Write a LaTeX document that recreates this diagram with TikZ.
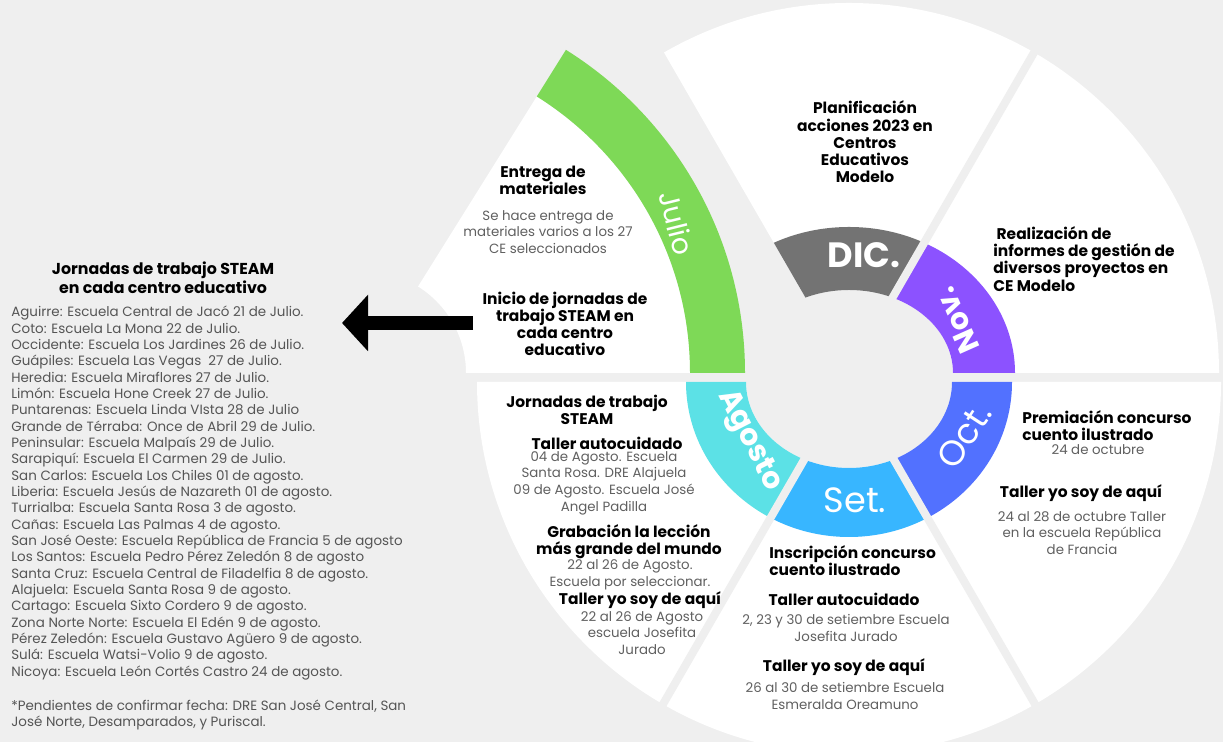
\documentclass[tikz,border=0pt]{standalone}
\usepackage{fontspec}
\setmainfont{Poppins}
\usetikzlibrary{arrows.meta}
\definecolor{bggray}{HTML}{EFEFEF}
\definecolor{julio}{HTML}{7ED957}
\definecolor{dic}{HTML}{737373}
\definecolor{nov}{HTML}{8C52FF}
\definecolor{oct}{HTML}{5271FF}
\definecolor{set}{HTML}{38B6FF}
\definecolor{ago}{HTML}{5CE1E6}
\definecolor{infogray}{HTML}{606060}
\definecolor{listgray}{HTML}{555555}
\begin{document}
\begin{tikzpicture}
	[x=0.02cm, y=0.02cm,
	head/.style = {font=\bfseries\fontsize{8.8}{9.8}\selectfont, align=center, inner sep=0pt},
	info/.style = {font=\fontsize{7.6}{9.5}\selectfont, align=center, text=infogray, inner sep=0pt},
	month/.style = {text=white, inner sep=0pt},
	gap/.style = {bggray, line width=0.16cm}]
\fill[bggray] (0,0) rectangle (1223,742);
\useasboundingbox (0,0) rectangle (1223,742);
\coordinate (U) at (849,369);
\coordinate (L) at (849,360);
\coordinate (J) at (364,369);
% upper half of the wheel
\begin{scope}
\clip (U) -- +(0:500) -- +(60:500) -- cycle;
\fill[white, even odd rule] (U) circle[radius=370] (U) ellipse[x radius=104, y radius=83];
\fill[nov, even odd rule] (U) ellipse[x radius=166, y radius=146] (U) ellipse[x radius=104, y radius=83];
\end{scope}
\begin{scope}
\clip (U) -- +(60:500) -- +(120:500) -- cycle;
\fill[white, even odd rule] (U) circle[radius=370] (U) ellipse[x radius=104, y radius=83];
\fill[dic, even odd rule] (U) ellipse[x radius=166, y radius=146] (U) ellipse[x radius=104, y radius=83];
\end{scope}
% lower half of the wheel
\begin{scope}
\clip (L) -- +(180:500) -- +(240:500) -- cycle;
\fill[white, even odd rule] (L) circle[radius=372] (L) ellipse[x radius=103, y radius=86];
\fill[ago, even odd rule] (L) ellipse[x radius=163, y radius=155] (L) ellipse[x radius=103, y radius=86];
\end{scope}
\begin{scope}
\clip (L) -- +(240:500) -- +(300:500) -- cycle;
\fill[white, even odd rule] (L) circle[radius=372] (L) ellipse[x radius=103, y radius=86];
\fill[set, even odd rule] (L) ellipse[x radius=163, y radius=155] (L) ellipse[x radius=103, y radius=86];
\end{scope}
\begin{scope}
\clip (L) -- +(300:500) -- +(360:500) -- cycle;
\fill[white, even odd rule] (L) circle[radius=372] (L) ellipse[x radius=103, y radius=86];
\fill[oct, even odd rule] (L) ellipse[x radius=163, y radius=155] (L) ellipse[x radius=103, y radius=86];
\end{scope}
\draw[gap] (U) -- +(60:380);
\draw[gap] (L) -- +(240:380);
\draw[gap] (L) -- +(300:380);
% julio piece
\begin{scope}
\clip (J) -- +(0:500) -- +(58:500) -- cycle;
\fill[white, even odd rule] (J) circle[radius=326] (J) circle[radius=102];
\fill[julio, even odd rule] (J) circle[radius=381] (J) circle[radius=326];
\end{scope}

% month labels
\node[month, font=\fontsize{16}{16}\selectfont, rotate=-76] (mjul) at (677,519) {Julio};
\node[month, font=\bfseries\fontsize{20}{20}\selectfont] (mdic) at (864,487) {DIC.};
\node[month, font=\bfseries\fontsize{17}{17}\selectfont, rotate=114] (mnov) at (957,422) {Nov.};
\node[month, font=\fontsize{20}{20}\selectfont, rotate=57] (moct) at (964,306) {Oct.};
\node[month, font=\fontsize{20}{20}\selectfont] (mset) at (855,242) {Set.};
\node[month, font=\bfseries\fontsize{17}{17}\selectfont, rotate=-63] (mago) at (749,301) {Agosto};

% julio texts
\node[head] (entrega) at (543,562) {Entrega de\\materiales};
\node[info] (entregainfo) at (548,510) {Se hace entrega de\\materiales varios a los 27\\CE seleccionados};
\node[head] (inicio) at (565,418) {Inicio de jornadas de\\trabajo STEAM en\\cada centro\\educativo};
% dic and nov texts
\node[head] (plan) at (865,600) {Planificación\\acciones 2023 en\\Centros\\Educativos\\Modelo};
\node[head, align=left, anchor=west] (informes) at (993,483) {\ Realización de\\informes de gestión de\\diversos proyectos en\\CE Modelo};
% agosto texts
\node[head] (jornadas) at (587,332) {Jornadas de trabajo\\STEAM};
\node[head] (autoago) at (607,299) {Taller autocuidado};
\node[info] (autoagoinfo) at (604,259) {04 de Agosto. Escuela\\Santa Rosa. DRE Alajuela\\09 de Agosto. Escuela José\\Angel Padilla};
\node[head] (grabacion) at (629,200) {Grabación la lección\\más grande del mundo};
\node[info] (grabacioninfo) at (630,167) {22 al 26 de Agosto.\\Escuela por seleccionar.};
\node[head] (yoago) at (640,142) {Taller yo soy de aquí};
\node[info] (yoagoinfo) at (642,109) {22 al 26 de Agosto\\escuela Josefita\\Jurado};
% set texts
\node[head, align=left, anchor=west] (inscripcion) at (769,181) {Inscripción concurso\\cuento ilustrado};
\node[head] (autoset) at (844,143) {Taller autocuidado};
\node[info] (autosetinfo) at (846,114) {2, 23 y 30 de setiembre Escuela\\Josefita Jurado};
\node[head] (yoset) at (844,75) {Taller yo soy de aquí};
\node[info] (yosetinfo) at (845,46) {26 al 30 de setiembre Escuela\\Esmeralda Oreamuno};
% oct texts
\node[head, align=left, anchor=west] (premiacion) at (1022,316) {Premiación concurso\\cuento ilustrado};
\node[info] (premiacioninfo) at (1098,292) {24 de octubre};
\node[head] (yooct) at (1081,249) {Taller yo soy de aquí};
\node[info] (yooctinfo) at (1082,209) {24 al 28 de octubre Taller\\en la escuela República\\de Francia};

% list on the left
\node[head, font=\bfseries\fontsize{9}{9.2}\selectfont] (listtitle) at (163,464) {Jornadas de trabajo STEAM\\en cada centro educativo};
\node[info, align=left, anchor=west, text=listgray, font=\fontsize{7.65}{9.3}\selectfont] (list) at (11,249) {Aguirre: Escuela Central de Jacó 21 de Julio.\\
Coto: Escuela La Mona 22 de Julio.\\
Occidente: Escuela Los Jardines 26 de Julio.\\
Guápiles: Escuela Las Vegas\ \ 27 de Julio.\\
Heredia: Escuela Miraflores 27 de Julio.\\
Limón: Escuela Hone Creek 27 de Julio.\\
Puntarenas: Escuela Linda VIsta 28 de Julio\\
Grande de Térraba: Once de Abril 29 de Julio.\\
Peninsular: Escuela Malpaís 29 de Julio.\\
Sarapiquí: Escuela El Carmen 29 de Julio.\\
San Carlos: Escuela Los Chiles 01 de agosto.\\
Liberia: Escuela Jesús de Nazareth 01 de agosto.\\
Turrialba: Escuela Santa Rosa 3 de agosto.\\
Cañas: Escuela Las Palmas 4 de agosto.\\
San José Oeste: Escuela República de Francia 5 de agosto\\
Los Santos: Escuela Pedro Pérez Zeledón 8 de agosto\\
Santa Cruz: Escuela Central de Filadelfia 8 de agosto.\\
Alajuela: Escuela Santa Rosa 9 de agosto.\\
Cartago: Escuela Sixto Cordero 9 de agosto.\\
Zona Norte Norte: Escuela El Edén 9 de agosto.\\
Pérez Zeledón: Escuela Gustavo Agüero 9 de agosto.\\
Sulá: Escuela Watsi-Volio 9 de agosto.\\
Nicoya: Escuela León Cortés Castro 24 de agosto.};
\node[info, align=left, anchor=west, text=listgray, font=\fontsize{7.65}{9.3}\selectfont] (pending) at (11,27) {*Pendientes de confirmar fecha: DRE San José Central, San\\José Norte, Desamparados, y Puriscal.};

% arrow towards the list
\coordinate (arrtail) at (473,419);
\coordinate (arrtip) at (342,419);
\draw[line width=0.28cm, -{Triangle[length=0.52cm, width=1.1cm]}] (arrtail) -- (arrtip);
\end{tikzpicture}
\end{document}
